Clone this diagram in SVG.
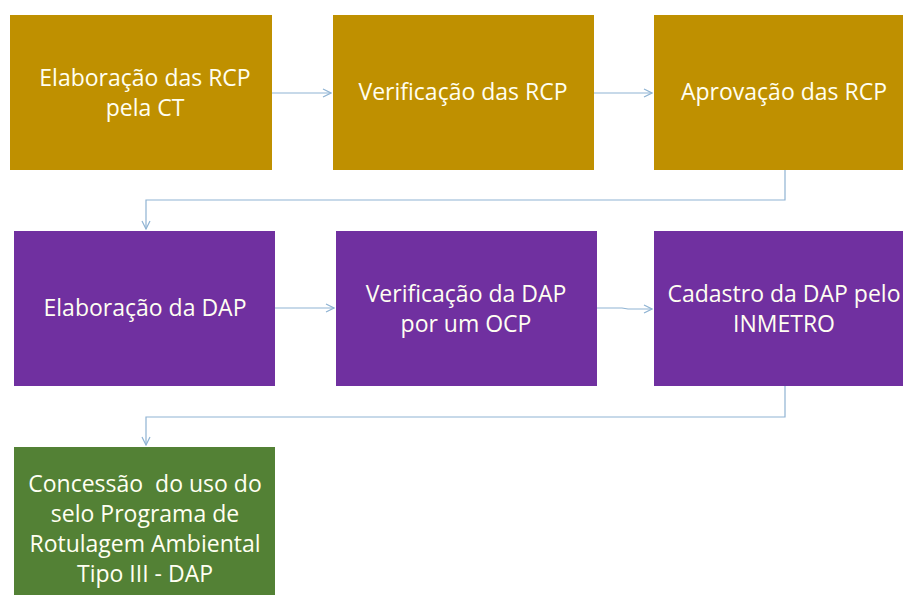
<svg xmlns="http://www.w3.org/2000/svg" width="903" height="595" viewBox="0 0 903 595">
<defs>
<style>
.gold{fill:#BF9000}
.purple{fill:#7030A0}
.green{fill:#538135}
.t{font-family:"Open Sans","Noto Sans",sans-serif;font-size:23px;fill:#FFFFF2;text-anchor:middle;white-space:pre}
.c{fill:none;stroke:#8FB3D3;stroke-width:1.2}
</style>
<marker id="ah" viewBox="0 0 10 10" refX="9" refY="5" markerWidth="10" markerHeight="10" markerUnits="userSpaceOnUse" orient="auto">
<path d="M1,1 L9,5 L1,9" fill="none" stroke="#8FB3D3" stroke-width="1.2"/>
</marker>
</defs>
<rect width="903" height="595" fill="#FFFFFF"/>
<g id="n1"><rect class="gold" x="10" y="15" width="262" height="155"/>
<text class="t" x="145" y="86">Elaboração das RCP</text><text class="t" x="145" y="116">pela CT</text></g>
<g id="n2"><rect class="gold" x="333" y="15" width="261" height="155"/>
<text class="t" x="463" y="100">Verificação das RCP</text></g>
<g id="n3"><rect class="gold" x="654" y="15" width="261" height="155"/>
<text class="t" x="784" y="100">Aprovação das RCP</text></g>
<g id="n4"><rect class="purple" x="14" y="231" width="261" height="155"/>
<text class="t" x="145" y="316">Elaboração da DAP</text></g>
<g id="n5"><rect class="purple" x="336" y="231" width="261" height="155"/>
<text class="t" x="466" y="302">Verificação da DAP</text><text class="t" x="466" y="332">por um OCP</text></g>
<g id="n6"><rect class="purple" x="654" y="231" width="261" height="155"/>
<text class="t" x="784" y="302">Cadastro da DAP pelo</text><text class="t" x="784" y="332">INMETRO</text></g>
<g id="n7"><rect class="green" x="14" y="447" width="261" height="148"/>
<text class="t" x="145" y="492" xml:space="preserve">Concessão  do uso do</text><text class="t" x="145" y="522">selo Programa de</text><text class="t" x="145" y="552">Rotulagem Ambiental</text><text class="t" x="145" y="582">Tipo III - DAP</text></g>
<g id="connectors">
<path class="c" d="M272,93 H331" marker-end="url(#ah)"/>
<path class="c" d="M594,93 H652" marker-end="url(#ah)"/>
<path class="c" d="M785,170 V200 H146 V229" marker-end="url(#ah)"/>
<path class="c" d="M275,308 H334" marker-end="url(#ah)"/>
<path class="c" d="M597,308 H622 L628,309 H652" marker-end="url(#ah)"/>
<path class="c" d="M785,386 V417 H146 V445" marker-end="url(#ah)"/>
</g>
</svg>
